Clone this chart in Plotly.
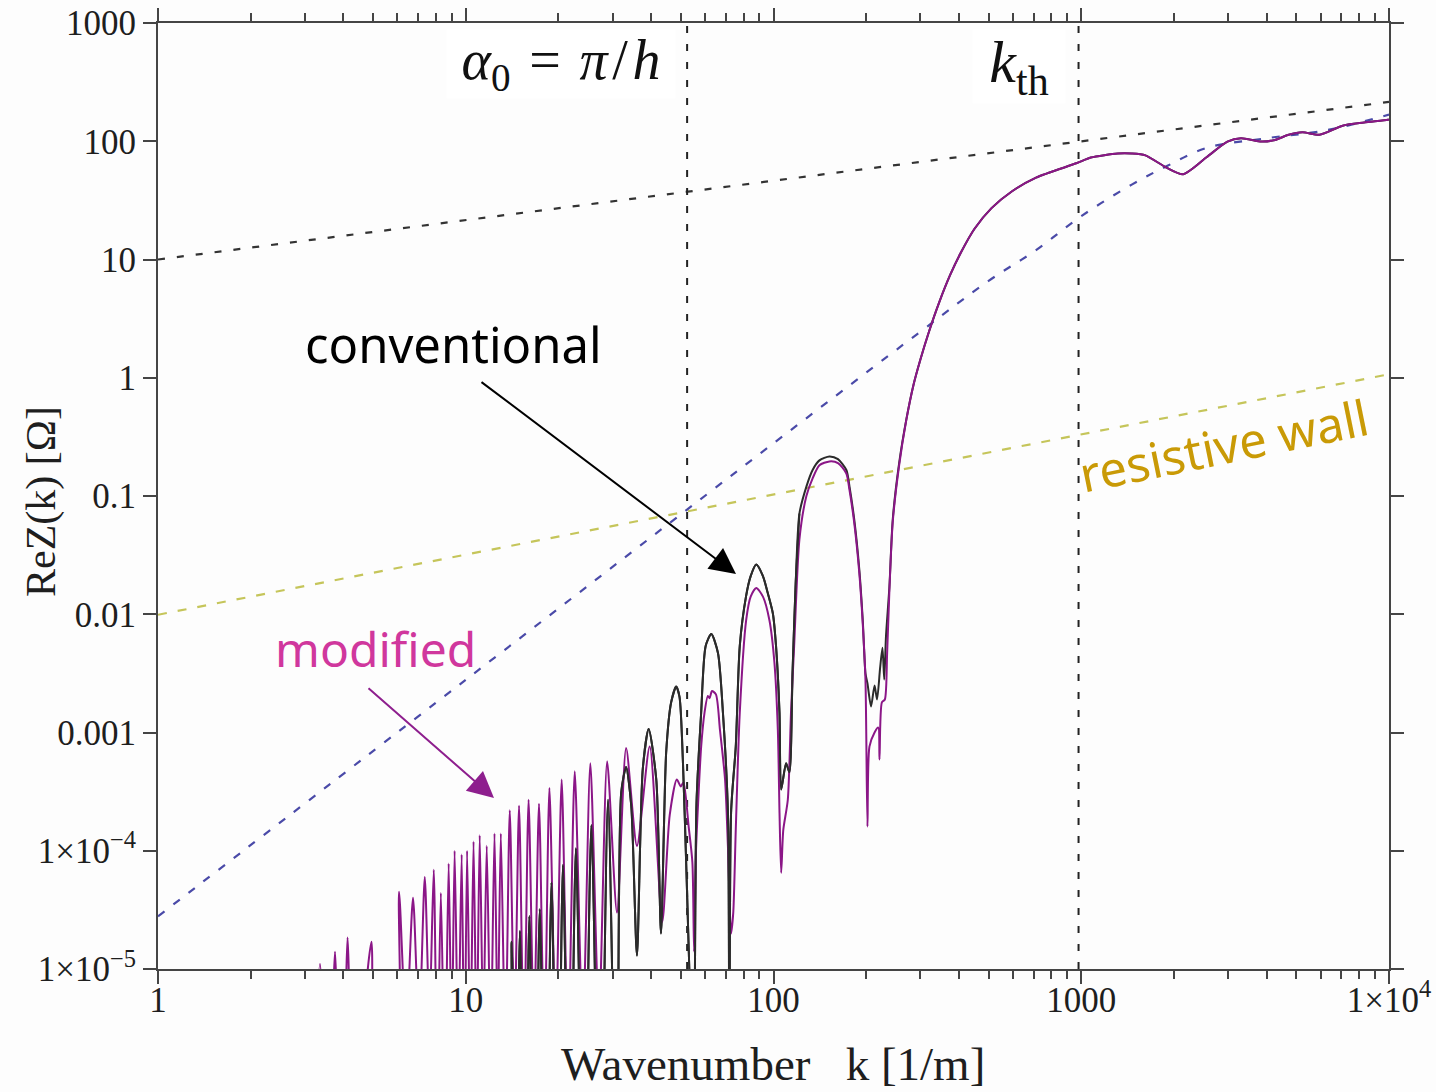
import plotly.graph_objects as go

# ---------------- data ----------------
# straight reference lines
line_k = [1, 10000]
upper_v = [10.0, 215.0]          # black dashed asymptote
wall_v = [0.0099, 1.07]          # resistive wall (yellow dashed)

blue_k = [1, 10, 100, 300, 500, 713, 994, 1459, 1906, 2558, 4000, 6270, 10000]
blue_v = [2.79e-5, 2.79e-3, 0.279, 2.45, 6.6, 12.0, 23.0, 43.0, 62.0, 88.0, 106.0, 124.0, 168.0]

alpha_k = 52.4                   # alpha_0 = pi/h
kth_k = 980.0                    # k_th
vline_v = [1e-5, 1e3]

# common high-k part of both impedance curves
high_k = [285, 300, 320, 345, 375, 406, 450, 511, 596, 713, 969, 1074, 1315, 1459, 1616,
          1884, 2142, 2558, 2985, 3304, 3855, 4266, 4721, 5236, 5943, 7112, 8298, 9910, 10000]
high_v = [0.87, 1.42, 2.45, 4.3, 7.4, 11.4, 18.2, 27.2, 37.8, 49.3, 65.4, 72.8, 78.7, 78.7, 76.0,
          60.2, 52.7, 73.6, 99.3, 106.0, 99.3, 102.6, 113.6, 119.0, 113.6, 136.0, 144.0, 152.0, 153.0]

# conventional (black) low/mid-k part
conv_k = [12.8, 13.6, 14.1, 14.55, 15.0, 15.55, 16.1, 16.75, 17.4, 18.2, 19.0, 19.85, 20.7, 21.75,
          22.8, 24.2, 25.6, 27.3, 29.0, 31.0, 32.0, 33.2, 34.5, 36.0, 37.6, 39.3, 41.6, 43.1, 44.8,
          46.5, 48.3, 49.5, 50.8, 52.0, 55.0, 56.2, 58.2, 60.2, 62.8, 66.0, 68.5, 71.1, 71.9, 72.8,
          75.4, 77.7, 81.4, 84.3, 87.9, 92.4, 95.8, 99.5, 101.9, 104.6, 105.9, 109.9, 112.6, 115.3,
          118.0, 121.4, 127.9, 134.0, 141.0, 152.0, 162.0, 172.5, 176.6, 183.0, 190.0, 195.0, 199.0,
          202.0, 207.5, 213.0, 217.0, 222.0, 226.0, 229.0, 232.0, 238.0, 244.0, 256.0, 270.0]
conv_v = [1e-7, 1e-7, 1.7e-5, 1e-7, 2.1e-5, 1e-7, 2.8e-5, 1e-7, 3.2e-5, 1e-7, 5.4e-5, 1e-7, 7.6e-5, 1e-7,
          1.05e-4, 1e-7, 1.65e-4, 1e-7, 2.7e-4, 1e-7, 3.1e-4, 5.1e-4, 2.4e-4, 1.3e-5, 4.9e-4, 1.07e-3, 4.0e-4, 2.0e-5, 6.8e-4,
          1.8e-3, 2.45e-3, 2.0e-3, 5.5e-4, 8.3e-5, 1e-6, 2.5e-4, 1.47e-3, 5.4e-3, 6.8e-3, 4.7e-3, 1.47e-3, 2.1e-4, 1e-7, 2.1e-4,
          7.6e-4, 5.4e-3, 1.41e-2, 2.1e-2, 2.63e-2, 2.1e-2, 1.51e-2, 1.02e-2, 5.4e-3, 1.46e-3, 3.3e-4, 5.5e-4, 4.6e-4, 3.2e-3,
          1.78e-2, 7.1e-2, 0.12, 0.166, 0.2, 0.216, 0.205, 0.166, 0.12, 0.063, 0.024, 8.9e-3, 3.16e-3,
          2.6e-3, 1.66e-3, 2.5e-3, 1.9e-3, 3.5e-3, 5.2e-3, 2.8e-3, 6.5e-3, 1.7e-2, 6.3e-2, 0.19, 0.44]

# modified (purple) low/mid-k part
mod_k = [3.0, 3.36, 3.55, 3.76, 3.95, 4.13, 4.35, 4.72, 4.94, 5.25, 5.85, 6.07, 6.4, 6.74, 7.05, 7.36,
         7.62, 7.87, 8.08, 8.3, 8.55, 8.8, 9.0, 9.2, 9.45, 9.7, 9.9, 10.1, 10.35, 10.6, 10.85, 11.1,
         11.4, 11.7, 12.05, 12.4, 12.7, 13.0, 13.45, 13.9, 14.4, 14.9, 15.45, 16.0, 16.65, 17.3, 18.0,
         18.7, 19.6, 20.5, 21.5, 22.6, 24.0, 25.4, 27.1, 28.8, 31.0, 33.2, 36.0, 39.6, 43.5, 46.0,
         48.5, 50.0, 51.0, 53.0, 54.5, 55.2, 56.0, 57.0, 58.2, 59.7, 61.2, 62.0, 63.1, 65.0, 67.0,
         69.6, 71.1, 72.8, 74.0, 75.4, 77.7, 81.5, 84.3, 87.9, 92.4, 97.0, 100.7, 103.3, 104.6, 105.9,
         107.6, 111.3, 114.0, 116.7, 121.4, 127.9, 134.0, 141.0, 152.0, 162.0, 172.5, 176.6, 183.0,
         190.0, 195.0, 199.0, 202.0, 205.0, 213.0, 219.0, 221.0, 225.0, 230.0, 234.0, 238.0, 244.0,
         256.0, 270.0]
mod_v = [1e-7, 1.1e-5, 1e-7, 1.4e-5, 1e-7, 1.85e-5, 1e-7, 6e-6, 1.7e-5, 1e-7, 1e-7, 4.5e-5, 3e-6, 4.0e-5, 3e-6, 6.0e-5,
         4e-6, 6.9e-5, 1e-6, 4.4e-5, 1e-6, 7.8e-5, 2e-6, 1.0e-4, 2e-6, 9.3e-5, 1e-6, 1.0e-4, 2e-6, 1.2e-4, 2e-6, 1.35e-4,
         3e-6, 1.1e-4, 2e-6, 1.4e-4, 3e-6, 1.4e-4, 2e-6, 2.2e-4, 3e-6, 2.4e-4, 2e-6, 2.7e-4, 3e-6, 2.5e-4, 2e-6,
         3.4e-4, 3e-6, 4.0e-4, 2e-6, 4.7e-4, 3e-6, 5.5e-4, 4e-6, 5.7e-4, 3.0e-5, 7.4e-4, 1.1e-4, 7.6e-4, 2.5e-5, 2.0e-4,
         4.0e-4, 3.5e-4, 3.8e-4, 1.6e-4, 8e-5, 1.4e-5, 1.0e-4, 2.8e-4, 7.6e-4, 1.48e-3, 2.04e-3, 1.95e-3, 2.24e-3, 2.1e-3, 1.05e-3,
         4.0e-4, 1.1e-4, 2.0e-5, 3e-5, 1.5e-4, 1.48e-3, 8.9e-3, 1.41e-2, 1.67e-2, 1.41e-2, 8.9e-3, 3.9e-3, 1.05e-3, 2.1e-4, 6.5e-5,
         1.5e-4, 2.7e-4, 1.48e-3, 5.4e-3, 4.3e-2, 0.1, 0.141, 0.182, 0.196, 0.19, 0.155, 0.112, 0.059,
         0.0224, 8.3e-3, 2.8e-3, 1.6e-4, 7.6e-4, 1.0e-3, 1.1e-3, 5.9e-4, 1.8e-3, 1.9e-3, 4.7e-3, 1.58e-2, 6.0e-2,
         0.182, 0.437]

x_tickvals = [1, 10, 100, 1000, 10000]
x_ticktext = ["1", "10", "100", "1000", "1×10<sup>4</sup>"]
y_tickvals = [1e-5, 1e-4, 1e-3, 1e-2, 1e-1, 1, 10, 100, 1000]
y_ticktext = ["1×10<sup>−5</sup>", "1×10<sup>−4</sup>", "0.001", "0.01", "0.1", "1", "10", "100", "1000"]

# ---------------- layout geometry ----------------
W, H = 1436, 1092
L, R, T, B = 158, 1389, 23, 969


def px(x):
    return (x - L) / (R - L)


def py(y):
    return (B - y) / (B - T)


AX = "#454545"
SMOOTH = 0.7
fig = go.Figure()

# dashed reference lines
fig.add_trace(go.Scatter(x=line_k, y=upper_v, mode="lines",
                         line=dict(color="#333333", width=2.2, dash="7px,12px")))
fig.add_trace(go.Scatter(x=line_k, y=wall_v, mode="lines",
                         line=dict(color="#c5c55a", width=2.2, dash="9px,11px")))
fig.add_trace(go.Scatter(x=blue_k, y=blue_v, mode="lines", line_shape="spline",
                         line=dict(color="#4a4aa8", width=2.2, dash="8px,11px")))
fig.add_trace(go.Scatter(x=[alpha_k, alpha_k], y=vline_v, mode="lines",
                         line=dict(color="#222222", width=2, dash="7px,11px")))
fig.add_trace(go.Scatter(x=[kth_k, kth_k], y=vline_v, mode="lines",
                         line=dict(color="#222222", width=2, dash="7px,11px")))

# impedance curves: black underneath, purple, then black low-k part on top
fig.add_trace(go.Scatter(x=conv_k + high_k, y=conv_v + high_v, mode="lines",
                         line=dict(color="#2b2b2b", width=2, shape="spline", smoothing=SMOOTH)))
fig.add_trace(go.Scatter(x=mod_k + high_k, y=mod_v + high_v, mode="lines",
                         line=dict(color="#8b1687", width=2, shape="spline", smoothing=SMOOTH)))
n_low = sum(1 for k in conv_k if k <= 121.4)
fig.add_trace(go.Scatter(x=conv_k[:n_low], y=conv_v[:n_low], mode="lines",
                         line=dict(color="#2b2b2b", width=2, shape="spline", smoothing=SMOOTH)))

fig.update_layout(
    width=W, height=H,
    margin=dict(l=L, r=W - R, t=T, b=H - B, autoexpand=False),
    paper_bgcolor="#fdfdfd", plot_bgcolor="#fdfdfd",
    showlegend=False,
)

fig.update_xaxes(
    type="log", range=[0, 4], automargin=False,
    tickmode="array", tickvals=x_tickvals, ticktext=x_ticktext,
    ticks="outside", ticklen=13, tickwidth=2, tickcolor=AX,
    showline=True, linecolor=AX, linewidth=2, mirror="allticks",
    showgrid=False, zeroline=False,
    tickfont=dict(family="Liberation Serif", size=35, color="#1e1e1e"),
    ticklabelstandoff=-14,
    minor=dict(ticks="outside", ticklen=8, tickwidth=1.5, tickcolor=AX, dtick="D1", showgrid=False),
)
fig.update_yaxes(
    type="log", range=[-5, 3], automargin=False,
    tickmode="array", tickvals=y_tickvals, ticktext=y_ticktext,
    ticks="outside", ticklen=13, tickwidth=2, tickcolor=AX,
    showline=True, linecolor=AX, linewidth=2, mirror="allticks",
    showgrid=False, zeroline=False,
    tickfont=dict(family="Liberation Serif", size=35, color="#1e1e1e"),
    ticklabelstandoff=0,
)

ann = []
# axis titles
ann.append(dict(text="Wavenumber\u00a0\u00a0\u00a0k [1/m]", x=px(773), y=py(1064), xref="paper", yref="paper",
                showarrow=False, xanchor="center", yanchor="middle",
                font=dict(family="Liberation Serif", size=47, color="#1e1e1e")))
ann.append(dict(text="ReZ(k) [Ω]", x=px(41), y=py(502), xref="paper", yref="paper", textangle=-90,
                showarrow=False, xanchor="center", yanchor="middle",
                font=dict(family="Liberation Serif", size=42, color="#1e1e1e")))
# boxed labels at the top
ann.append(dict(text="<i>α</i><sub>0</sub>\u2004=\u2004<i>π</i>\u200a/\u200a<i>h</i>", x=px(561), y=py(64),
                xref="paper", yref="paper",
                showarrow=False, xanchor="center", yanchor="middle", width=224, height=64, borderpad=2,
                bgcolor="#ffffff", font=dict(family="Liberation Serif", size=56, color="#111111")))
ann.append(dict(text="<i>k</i><sub>th</sub>", x=px(1019), y=py(67), xref="paper", yref="paper",
                showarrow=False, xanchor="center", yanchor="middle", width=88, height=69, borderpad=2,
                bgcolor="#ffffff", font=dict(family="Liberation Serif", size=60, color="#111111")))
# curve labels
ann.append(dict(text="conventional", x=px(453), y=py(344), xref="paper", yref="paper",
                showarrow=False, xanchor="center", yanchor="middle",
                font=dict(family="Noto Sans", size=49, color="#000000")))
ann.append(dict(text="modified", x=px(375), y=py(648), xref="paper", yref="paper",
                showarrow=False, xanchor="center", yanchor="middle",
                font=dict(family="Noto Sans", size=48, color="#d0379d")))
ann.append(dict(text="resistive wall", x=px(1223), y=py(445), xref="paper", yref="paper", textangle=-11.5,
                showarrow=False, xanchor="center", yanchor="middle",
                font=dict(family="Noto Sans", size=49, color="#c99a06")))
# arrows
ann.append(dict(text="", x=px(736), y=py(574), xref="paper", yref="paper",
                showarrow=True, ax=480 - 736, ay=381 - 574, axref="pixel", ayref="pixel",
                arrowhead=2, arrowsize=2.6, arrowwidth=2, arrowcolor="#000000", standoff=0))
ann.append(dict(text="", x=px(494), y=py(798), xref="paper", yref="paper",
                showarrow=True, ax=367 - 494, ay=687 - 798, axref="pixel", ayref="pixel",
                arrowhead=2, arrowsize=2.6, arrowwidth=2, arrowcolor="#8e1f8e", standoff=0))
fig.update_layout(annotations=ann)

fig.write_html("out.html")
